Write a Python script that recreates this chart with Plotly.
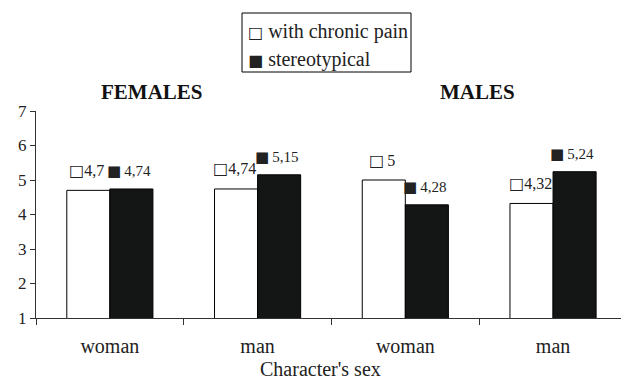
import plotly.graph_objects as go

categories = ["woman", "man", "woman ", "man "]
tick_labels = ["woman", "man", "woman", "man"]
chronic = [4.70, 4.74, 5.00, 4.32]
stereo = [4.74, 5.15, 4.28, 5.24]
series_names = ["with chronic pain", "stereotypical"]
group_titles = ["FEMALES", "MALES"]
x_title = "Character's sex"

FONT = "Liberation Serif"
BLACK = "#141615"


def sq(filled, size):
    ch = "\u25a0" if filled else "\u25a1"
    return '<span style="font-family:DejaVu Sans;font-size:%dpx">%s</span>' % (size, ch)


def fmt(v):
    return ("%g" % v).replace(".", ",")


fig = go.Figure()
fig.add_trace(go.Bar(x=categories, y=chronic, name=series_names[0],
                     marker=dict(color="white", line=dict(color="black", width=1)),
                     showlegend=False))
fig.add_trace(go.Bar(x=categories, y=stereo, name=series_names[1],
                     marker=dict(color=BLACK, line=dict(color="black", width=1)),
                     showlegend=False))

annotations = []
# data labels
for i, c in enumerate(categories):
    annotations.append(dict(x=c, y=chronic[i], xref="x", yref="y",
                            text=sq(False, 16) + ("\u2009" if chronic[i] == int(chronic[i]) else "") + fmt(chronic[i]),
                            showarrow=False, xshift=-23, yshift=20, xanchor="center", yanchor="middle",
                            font=dict(family=FONT, size=16, color="#222")))
    annotations.append(dict(x=c, y=stereo[i], xref="x", yref="y",
                            text=sq(True, 15) + "\u2009" + fmt(stereo[i]),
                            showarrow=False, xshift=19, yshift=18, xanchor="center", yanchor="middle",
                            font=dict(family=FONT, size=15, color="#222")))

# group titles
annotations.append(dict(x=(152 - 36) / 585, y=(318 - 92) / 207, xref="paper", yref="paper",
                        text="<b>" + group_titles[0] + "</b>", xanchor="center", yanchor="middle",
                        showarrow=False, font=dict(family=FONT, size=21, color="#111")))
annotations.append(dict(x=(477 - 36) / 585, y=(318 - 92) / 207, xref="paper", yref="paper",
                        text="<b>" + group_titles[1] + "</b>", xanchor="center", yanchor="middle",
                        showarrow=False, font=dict(family=FONT, size=21, color="#111")))
# x axis title
annotations.append(dict(x=(320 - 36) / 585, y=(318 - 369) / 207, xref="paper", yref="paper", text=x_title,
                        xanchor="center", yanchor="middle",
                        showarrow=False, font=dict(family=FONT, size=20, color="#222")))

# manual legend
annotations.append(dict(x=(246 - 36) / 585, y=(318 - 31) / 207, xref="paper", yref="paper",
                        xanchor="left", yanchor="middle", text=sq(False, 16) + " " + series_names[0],
                        showarrow=False, font=dict(family=FONT, size=20, color="#222")))
annotations.append(dict(x=(246 - 36) / 585, y=(318 - 59) / 207, xref="paper", yref="paper",
                        xanchor="left", yanchor="middle", text=sq(True, 16) + " " + series_names[1],
                        showarrow=False, font=dict(family=FONT, size=20, color="#222")))

shapes = [dict(type="rect", xref="paper", yref="paper",
               x0=(242 - 36) / 585, x1=(411 - 36) / 585,
               y0=(318 - 72) / 207, y1=(318 - 13) / 207,
               line=dict(color="black", width=1), fillcolor="rgba(0,0,0,0)")]

fig.update_layout(
    template="none",
    width=621, height=380,
    margin=dict(l=36, r=0, t=111, b=62, autoexpand=False),
    paper_bgcolor="white", plot_bgcolor="white",
    barmode="group", bargap=0.417, bargroupgap=0,
    annotations=annotations, shapes=shapes,
    font=dict(family=FONT, color="#222"),
    xaxis=dict(type="category", range=[-0.5, 3.46], tickmode="array",
               tickvals=categories, ticktext=tick_labels,
               tickson="boundaries", ticks="outside", ticklen=6, tickcolor="#333",
               ticklabelstandoff=10,
               showline=True, linecolor="#333", linewidth=1, showgrid=False, automargin=False,
               tickfont=dict(family=FONT, size=20, color="#222")),
    yaxis=dict(range=[1, 7], dtick=1, ticks="outside", ticklen=5, tickcolor="#333",
               showline=True, linecolor="#333", linewidth=1, showgrid=False, zeroline=False,
               automargin=False,
               tickfont=dict(family=FONT, size=17, color="#222")),
)

fig.write_html("out.html", config={"displayModeBar": False},
               post_script="document.body.style.margin='0';document.body.style.overflow='hidden';")
